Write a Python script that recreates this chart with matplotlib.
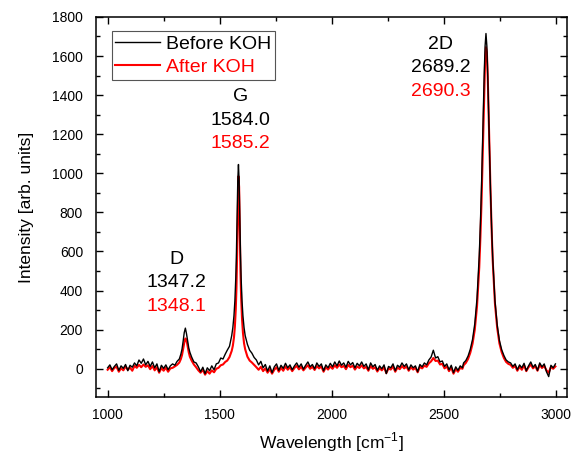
import numpy as np
import matplotlib
matplotlib.use('Agg')
import matplotlib.pyplot as plt
from matplotlib.ticker import MultipleLocator

plt.rcParams['font.family'] = ['Liberation Sans', 'DejaVu Sans']
plt.rcParams['mathtext.fontset'] = 'custom'
plt.rcParams['mathtext.rm'] = 'Liberation Sans'

# Raman shift samples (denser around the D, G and 2D peaks)
wavenumber = np.concatenate([
    np.arange(1000, 1281, 10),
    [1290, 1300, 1310, 1320, 1327, 1332, 1337, 1342, 1347, 1352, 1357, 1362, 1367, 1375, 1385, 1395],
    np.arange(1405, 1526, 10),
    [1534, 1544, 1554, 1559, 1564, 1568, 1572, 1575, 1578, 1581, 1584, 1587, 1590,
     1593, 1596, 1600, 1604, 1609, 1614, 1624, 1634],
    np.arange(1644, 2585, 10),
    [2589, 2599, 2609, 2619, 2629, 2639, 2649, 2659, 2664, 2669, 2673, 2677, 2681, 2685, 2689,
     2693, 2697, 2701, 2705, 2709, 2714, 2719, 2729, 2739, 2749, 2759, 2769, 2779, 2789],
    np.arange(2799, 3000, 10),
])

before_koh = [
    # 1000 - 1280
    5, 20, -5, 12, 25, -8, 15, 2, 22, -10,
    18, 8, 30, 15, 45, 28, 50, 20, 38, 12,
    35, 5, 25, -15, 18, 2, 20, -5, 15,
    # D band
    25, 18, 38, 50, 75, 100, 140, 185, 208, 180, 145, 108, 85, 60, 35, 30,
    # 1405 - 1525
    10, -15, 8, -25, 5, -10, 15, -5, 25, 30, 55, 50, 75,
    # G band
    95, 115, 170, 211, 272, 346, 462, 593, 771, 960, 1045, 960, 771,
    593, 462, 346, 272, 211, 170, 125, 95,
    # 1644 - 2584
    80, 58, 45, 20, 38, 5, 22, -12, 15, -20,
    10, 25, -8, 18, 2, 28, 5, 20, -5, 15,
    30, 8, 25, -2, 18, 35, 10, 22, 0, 30,
    12, 25, -10, 20, 5, 28, 10, 35, 15, 40,
    18, 30, 8, 38, 20, 32, 5, 28, 15, 35,
    12, 25, -5, 30, 10, 22, -8, 15, 0, 20,
    -25, 12, 5, 25, -10, 18, 8, 30, 12, 25,
    -5, 20, 5, 15, -15, 22, 10, 30, 20, 45,
    60, 95, 55, 62, 35, 40, 12, 25, -5, 18,
    -20, 10, -8, 15, 5,
    # 2D band
    30, 42, 65, 100, 150, 230, 360, 580, 740, 930, 1110, 1310, 1500, 1650, 1715,
    1650, 1495, 1300, 1100, 920, 730, 570, 350, 225, 145, 98, 68, 45, 35,
    # 2799 - 2999
    30, 12, 25, -5, 20, 5, 28, -10, 15, 35,
    8, 22, -8, 30, 10, 25, -15, -40, 18, 5, 25,
]

after_koh = [
    # 1000 - 1280
    -5, 8, -12, 5, 10, -15, 3, -8, 12, -5,
    6, -10, 15, 5, 20, 8, 22, 10, 18, -2,
    14, -8, 8, -20, 4, -10, 6, -15, 2,
    # D band
    5, 12, 20, 32, 50, 70, 100, 132, 155, 148, 118, 85, 62, 42, 22, 8,
    # 1405 - 1525
    -8, -20, -5, -30, -12, -25, -8, -18, 0, 5, 18, 22, 35,
    # G band
    42, 60, 92, 118, 160, 215, 305, 410, 580, 800, 985, 930, 720,
    500, 365, 255, 185, 130, 100, 62, 42,
    # 1644 - 2584
    32, 20, 8, -5, 10, -12, 2, -20, -2, -25,
    -5, 8, -15, 5, -10, 12, -5, 8, -12, 4,
    15, -3, 10, -8, 6, 18, 0, 10, -6, 14,
    2, 12, -15, 8, -4, 12, 0, 18, 5, 22,
    8, 15, -2, 20, 8, 16, -4, 12, 4, 18,
    2, 10, -10, 14, 0, 8, -14, 4, -8, 8,
    -22, 2, -4, 12, -15, 6, -2, 14, 2, 12,
    -10, 8, -4, 5, -18, 10, 2, 16, 10, 28,
    38, 55, 40, 42, 22, 25, 2, 12, -12, 6,
    -25, -2, -15, 5, 0,
    # 2D band
    18, 30, 50, 82, 128, 200, 320, 520, 670, 850, 1030, 1220, 1410, 1570, 1645,
    1620, 1490, 1300, 1105, 920, 720, 555, 335, 210, 130, 85, 55, 35, 25,
    # 2799 - 2999
    20, 5, 15, -10, 10, -5, 18, -12, 8, 22,
    2, 14, -10, 20, 4, 15, -8, -20, 10, 0, 12,
]

# peak labels: name, position before, position after, label anchor (x, y)
peak_names = ['D', 'G', '2D']
peak_before = ['1347.2', '1584.0', '2689.2']
peak_after = ['1348.1', '1585.2', '2690.3']
label_x = [1309, 1592, 2486]
label_y = [559, 1391, 1660]

fig = plt.figure(figsize=(5.79, 4.57), dpi=100)
ax = fig.add_axes([0.165, 0.131, 0.814, 0.832])

ax.plot(wavenumber, after_koh, color='#ff0000', lw=1.5, label='After KOH', zorder=2)
ax.plot(wavenumber, before_koh, color='black', lw=1.0, label='Before KOH', zorder=3)

step = 120
for name, b, a, x, y in zip(peak_names, peak_before, peak_after, label_x, label_y):
    ax.text(x, y, name, ha='center', va='center', fontsize=14)
    ax.text(x, y - step, b, ha='center', va='center', fontsize=14)
    ax.text(x, y - 2 * step, a, ha='center', va='center', fontsize=14, color='#ff0000')

ax.set_xlim(946, 3050)
ax.set_ylim(-145, 1800)
ax.xaxis.set_major_locator(MultipleLocator(500))
ax.xaxis.set_minor_locator(MultipleLocator(250))
ax.yaxis.set_major_locator(MultipleLocator(200))
ax.yaxis.set_minor_locator(MultipleLocator(100))
ax.tick_params(which='both', direction='in', top=True, right=True, width=1.0)
ax.tick_params(which='major', length=5, labelsize=10)
ax.tick_params(which='minor', length=3)
ax.tick_params(axis='y', pad=9)
ax.tick_params(axis='x', pad=8)
for s in ax.spines.values():
    s.set_linewidth(1.1)

ax.set_xlabel('Wavelength [cm$^{-1}$]', fontsize=12.5, labelpad=6)
ax.set_ylabel('Intensity [arb. units]', fontsize=12.5, labelpad=13)

handles, labels = ax.get_legend_handles_labels()
leg = ax.legend(handles[::-1], labels[::-1], loc='upper left', bbox_to_anchor=(0.034, 0.962),
                fontsize=14, frameon=True, fancybox=False, framealpha=1,
                borderpad=0.2, borderaxespad=0, handlelength=2.3, handletextpad=0.3,
                labelspacing=0.3, labelcolor='linecolor')
leg.get_frame().set_edgecolor('#555555')
leg.get_frame().set_linewidth(0.8)

fig.savefig('out.png', dpi=100)
